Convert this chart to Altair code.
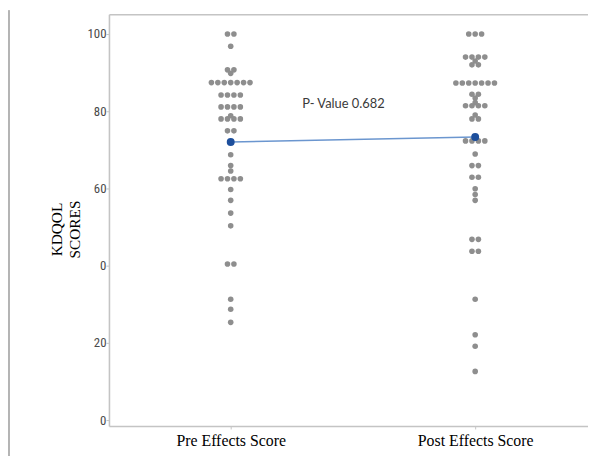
import altair as alt
import pandas as pd

categories = ["Pre Effects Score", "Post Effects Score"]

pre_scores = [100, 100, 96.8, 90.7, 90.7, 89.8,
              87.4, 87.4, 87.4, 87.4, 87.4, 87.4, 87.4,
              84.2, 84.2, 84.2, 84.2,
              81.1, 81.1, 81.1, 81.1,
              78.0, 78.0, 78.0, 78.0, 78.8,
              74.9, 74.9, 72.0, 68.7, 65.9, 64.5,
              62.5, 62.5, 62.5, 62.5,
              59.7, 56.9, 53.6, 50.3,
              40.4, 40.4, 31.3, 28.7, 25.3]

post_scores = [100, 100, 100,
               94.0, 94.0, 94.0, 94.0, 93.0, 92.0, 92.0,
               87.3, 87.3, 87.3, 87.3, 87.3, 87.3, 87.3,
               84.4, 84.4, 83.4,
               81.4, 81.4, 81.4, 81.4, 82.2,
               79.0, 78.0, 78.0,
               72.3, 72.3, 72.3, 72.3,
               68.9, 65.9, 65.9, 62.9, 62.9,
               59.9, 58.4, 56.9,
               46.8, 46.8, 43.7, 43.7,
               31.3, 22.1, 19.1, 12.6]

mean_scores = [72.0, 73.3]
p_text = ["P- Value 0.682"]
p_x = [0.293]
p_y = [81.8]

y_ticks = [0, 20, 40, 60, 80, 100]
y_tick_labels = ["0", "20", "0", "60", "80", "100"]

rows = [{"group": 0, "score": s} for s in pre_scores] + \
       [{"group": 1, "score": s} for s in post_scores]
dots = pd.DataFrame(rows)
means = pd.DataFrame({"group": [0, 1], "mean": mean_scores})
ann = pd.DataFrame({"x": p_x, "y": p_y, "t": p_text})

W, H = 484, 416
xscale = alt.Scale(domain=[-0.498, 1.4615], nice=False, zero=False)
yscale = alt.Scale(domain=[-1.54, 105.1], nice=False, zero=False)

x_label_expr = "[" + ",".join("'%s'" % c for c in categories) + "][datum.value]"
y_label_expr = "[" + ",".join("'%s'" % l for l in y_tick_labels) + "][indexof([" + \
    ",".join(str(t) for t in y_ticks) + "], datum.value)]"

frame_color = "#c4c4c4"

x_axis = alt.Axis(values=[0, 1], labelExpr=x_label_expr, title=None, grid=False,
                  labelFont="Liberation Serif", labelFontSize=16, labelColor="#000000",
                  labelPadding=4, tickSize=3, tickColor=frame_color, labelFlush=False,
                  domainColor=frame_color, domainWidth=1.6)
y_axis = alt.Axis(values=y_ticks, labelExpr=y_label_expr, grid=False,
                  title=["KDQOL", "SCORES"], titleFont="Liberation Serif",
                  titleFontSize=15.5, titleFontWeight="normal", titleColor="#000000",
                  titleAngle=270, titleX=-52.5, titleY=217, titleAlign="center",
                  titleBaseline="middle", titleLineHeight=18,
                  labelFont="Liberation Sans Narrow, Roboto Condensed, sans-serif",
                  labelFontSize=13, labelColor="#4a4a4a", labelPadding=0,
                  tickSize=3, tickColor=frame_color,
                  domainColor=frame_color, domainWidth=1.6)

dot_layer = alt.Chart(dots).transform_window(
    rank="row_number()", groupby=["group", "score"]
).transform_joinaggregate(
    n="count()", groupby=["group", "score"]
).transform_calculate(
    xpos="datum.group + (datum.rank - (datum.n + 1) / 2) * 0.0263"
).mark_circle(size=32, color="#8e8e8e", opacity=1).encode(
    x=alt.X("xpos:Q", scale=xscale, axis=x_axis),
    y=alt.Y("score:Q", scale=yscale, axis=y_axis),
)

line_layer = alt.Chart(means).mark_line(color="#6b96cf", strokeWidth=1.6).encode(
    x=alt.X("group:Q", scale=xscale,
            axis=alt.Axis(orient="top", labels=False, ticks=False, title=None, grid=False,
                          domainColor=frame_color, domainWidth=1.6)),
    y=alt.Y("mean:Q", scale=yscale, axis=None),
)

mean_pts = alt.Chart(means).mark_circle(size=64, color="#1d4f9c", opacity=1).encode(
    x=alt.X("group:Q", scale=xscale, axis=None),
    y=alt.Y("mean:Q", scale=yscale, axis=None),
)

text_layer = alt.Chart(ann).mark_text(
    align="left", baseline="middle", font="Lato", fontSize=13, color="#3a3a3a"
).encode(
    x=alt.X("x:Q", scale=xscale, axis=None),
    y=alt.Y("y:Q", scale=yscale, axis=None),
    text="t:N",
)

border = alt.Chart(means).mark_rule(color="#b0b0b0", strokeWidth=1.5).encode(
    x=alt.value(-101), y=alt.value(-4), y2=alt.value(H + 40)
)

chart = alt.layer(dot_layer, line_layer, mean_pts, text_layer, border).resolve_axis(
    x="independent", y="independent"
).properties(
    width=W, height=H,
    autosize=alt.AutoSizeParams(type="none"),
    padding={"left": 102, "top": 4, "right": 0, "bottom": 28},
    background="#ffffff",
).configure_view(stroke=None)

chart.save("out.html", embed_options={"renderer": "svg", "actions": False})
